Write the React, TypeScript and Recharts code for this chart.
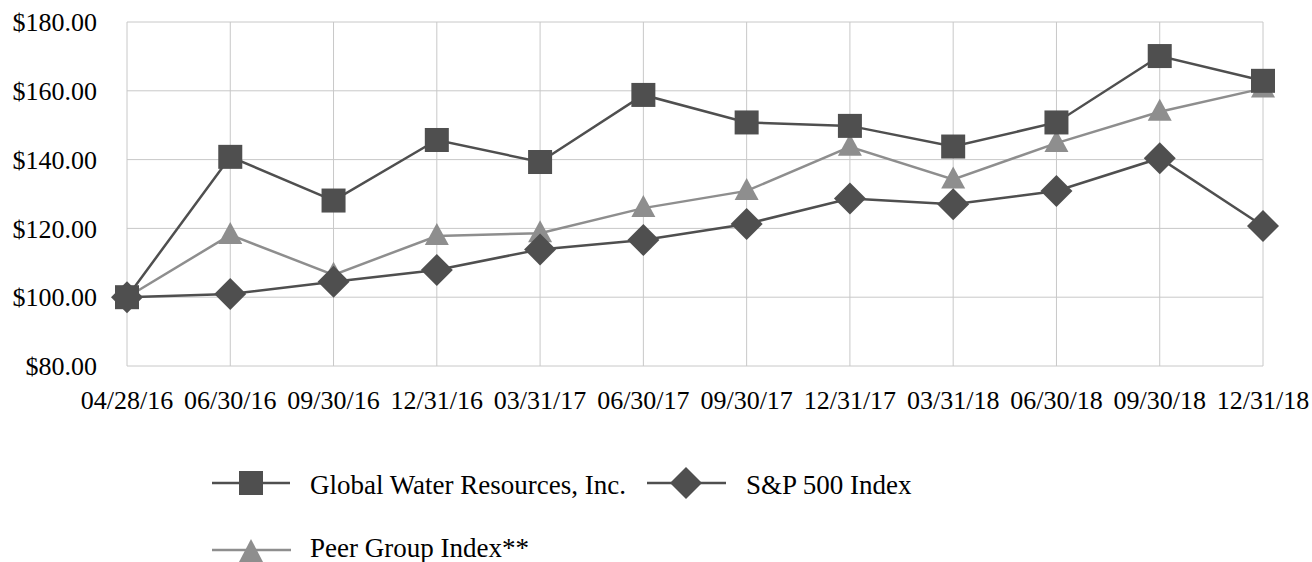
import React from 'react';
import { LineChart, Line, XAxis, YAxis, CartesianGrid, Legend } from 'recharts';

const categories = ['04/28/16', '06/30/16', '09/30/16', '12/31/16', '03/31/17', '06/30/17', '09/30/17', '12/31/17', '03/31/18', '06/30/18', '09/30/18', '12/31/18'];
const globalWater = [100, 140.8, 128.1, 145.7, 139.3, 158.8, 150.8, 149.8, 143.8, 150.8, 170.1, 162.9];
const sp500 = [100, 100.9, 104.5, 107.9, 113.9, 116.6, 121.3, 128.7, 127.0, 130.9, 140.4, 120.7];
const peerGroup = [100, 118.1, 106.5, 117.8, 118.6, 125.9, 130.9, 143.7, 134.2, 144.8, 153.9, 160.7];
const yTicks = [80, 100, 120, 140, 160, 180];
const seriesNames = ['Global Water Resources, Inc.', 'S&P 500 Index', 'Peer Group Index**'];

const data = categories.map((c, i) => ({
  date: c,
  gw: globalWater[i],
  sp: sp500[i],
  peer: peerGroup[i],
}));

const DARK = '#4f4f4f';
const LIGHT = '#8e8e8e';
const FONT = "Liberation Serif, DejaVu Serif, serif";

const SquareDot = (props: any) => {
  const { cx, cy, index } = props;
  return <rect key={`sq-${index}`} x={cx - 12} y={cy - 12} width={24} height={24} fill={DARK} />;
};
const DiamondDot = (props: any) => {
  const { cx, cy, index } = props;
  const r = 16;
  return <polygon key={`dm-${index}`} points={`${cx},${cy - r} ${cx + r},${cy} ${cx},${cy + r} ${cx - r},${cy}`} fill={DARK} />;
};
const TriangleDot = (props: any) => {
  const { cx, cy, index } = props;
  return <polygon key={`tr-${index}`} points={`${cx},${cy - 13} ${cx + 12},${cy + 9} ${cx - 12},${cy + 9}`} fill={LIGHT} />;
};

const textStyle = { fontFamily: FONT, fontSize: 26 };
const legendTextStyle = { fontFamily: FONT, fontSize: 27 };

const LegendBox = () => {
  const top = 450;
  const r1 = 483 - top;
  const r2 = 550 - top;
  return (
    <svg width={1312} height={112} style={{ display: 'block' }}>
      <line x1={212} x2={290} y1={r1} y2={r1} stroke={DARK} strokeWidth={2.5} />
      <rect x={251 - 12} y={r1 - 12} width={24} height={24} fill={DARK} />
      <text x={310} y={494 - top} style={legendTextStyle} fill="#000">{seriesNames[0]}</text>

      <line x1={647} x2={726} y1={r1} y2={r1} stroke={DARK} strokeWidth={2.5} />
      <polygon points={`686,${r1 - 16} 702,${r1} 686,${r1 + 16} 670,${r1}`} fill={DARK} />
      <text x={746} y={494 - top} style={legendTextStyle} fill="#000">{seriesNames[1]}</text>

      <line x1={212} x2={291} y1={r2} y2={r2} stroke={LIGHT} strokeWidth={2.5} />
      <polygon points={`251,${r2 - 11} 263,${r2 + 12} 239,${r2 + 12}`} fill={LIGHT} />
      <text x={310} y={557 - top} style={legendTextStyle} fill="#000">{seriesNames[2]}</text>
    </svg>
  );
};

export default function App() {
  return (
    <div style={{ position: 'absolute', left: 0, top: 0, width: 1312, height: 562, background: '#fff', fontFamily: FONT }}>
      <LineChart width={1312} height={562} data={data} margin={{ top: 22, right: 49, bottom: 136, left: 0 }} style={{ fontFamily: FONT }}>
        <CartesianGrid stroke="#c8c8c8" strokeWidth={1} />
        <XAxis
          dataKey="date"
          axisLine={false}
          tickLine={false}
          tickSize={0}
          tickMargin={25}
          height={60}
          interval={0}
          tick={{ fontSize: 26, fontFamily: FONT, fill: '#000', style: textStyle }}
        />
        <YAxis
          domain={[80, 180]}
          ticks={yTicks}
          width={127}
          axisLine={false}
          tickLine={false}
          tickSize={0}
          tickMargin={30}
          tickFormatter={(v: number) => `$${v.toFixed(2)}`}
          tick={{ fontSize: 26, fontFamily: FONT, fill: '#000', style: textStyle }}
        />
        <Legend
          verticalAlign="middle"
          align="center"
          layout="horizontal"
          wrapperStyle={{ top: 450, left: 0, width: 1312, height: 112 }}
          content={() => <LegendBox />}
        />
        <Line dataKey="peer" name={seriesNames[2]} stroke={LIGHT} strokeWidth={2.5} dot={TriangleDot} activeDot={false} isAnimationActive={false} />
        <Line dataKey="sp" name={seriesNames[1]} stroke={DARK} strokeWidth={2.5} dot={DiamondDot} activeDot={false} isAnimationActive={false} />
        <Line dataKey="gw" name={seriesNames[0]} stroke={DARK} strokeWidth={2.5} dot={SquareDot} activeDot={false} isAnimationActive={false} />
      </LineChart>
    </div>
  );
}
